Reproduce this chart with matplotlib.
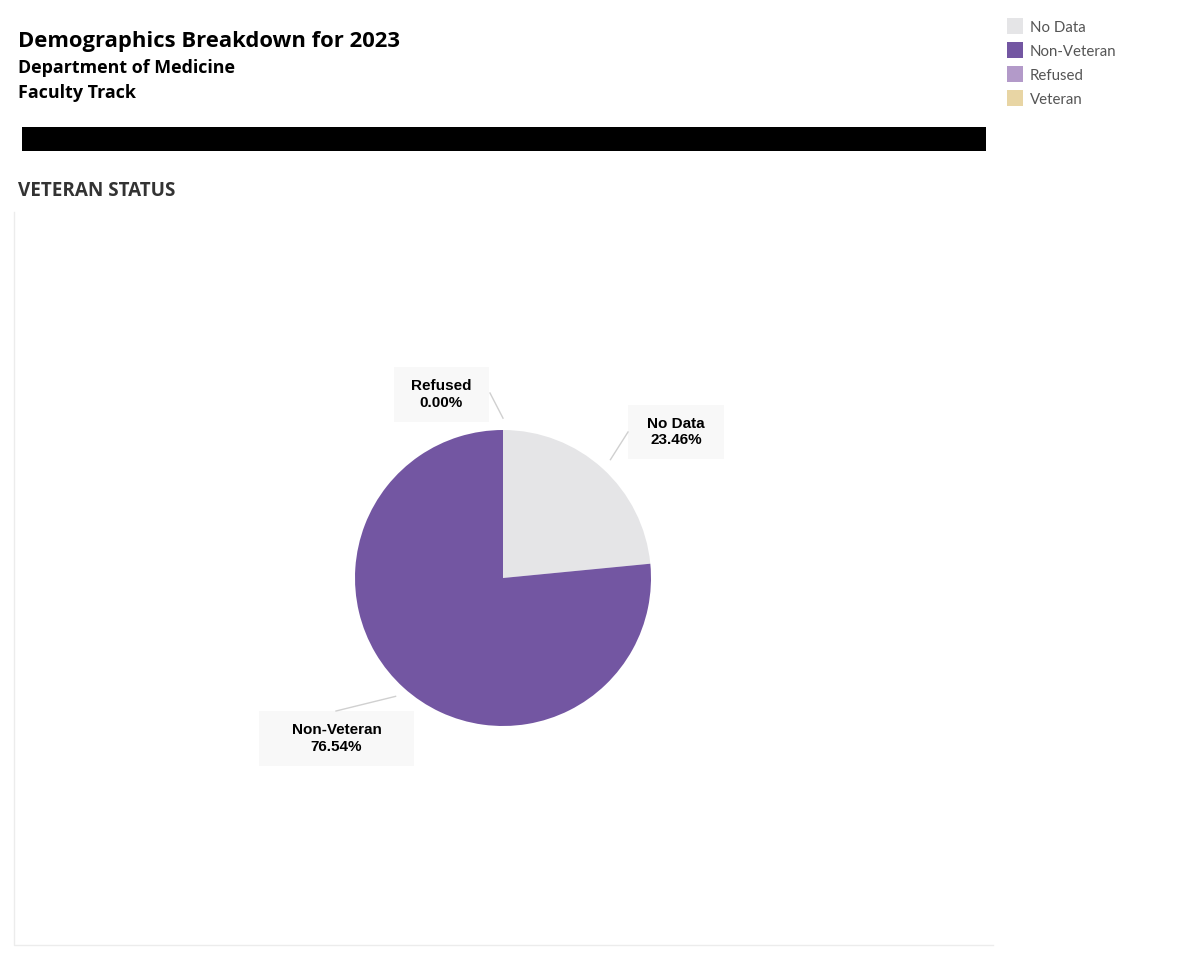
import numpy as np
import matplotlib
matplotlib.use("Agg")
from matplotlib import pyplot
from matplotlib.patches import Rectangle

# Data
categories = ["No Data", "Non-Veteran", "Refused", "Veteran"]
shares = [23.46, 76.54, 0.0, 0.0]
colors = ["#e5e5e7", "#7356a2", "#b39ac9", "#e8d5a4"]
labelled = ["No Data", "Non-Veteran", "Refused"]

W, H = 1200, 960
fig = pyplot.figure(figsize=(12, 9.6), dpi=100)
fig.patch.set_facecolor("white")

# full-figure overlay in pixel coords (y down)
bg = fig.add_axes([0, 0, 1, 1])
bg.set_xlim(0, W)
bg.set_ylim(H, 0)
bg.axis("off")

bg.text(18, 41, "Demographics Breakdown for 2023", fontsize=15.8, fontweight="bold",
        family="Open Sans", va="center", ha="left", color="black")
bg.text(18, 68, "Department of Medicine", fontsize=12.9, fontweight="bold",
        family="Open Sans", va="center", ha="left", color="black")
bg.text(18, 93, "Faculty Track", fontsize=12.9, fontweight="bold",
        family="Open Sans", va="center", ha="left", color="black")

bg.add_patch(Rectangle((22, 127), 964, 24, facecolor="black", edgecolor="none"))

bg.text(18, 191, "VETERAN STATUS", fontsize=13.6, fontweight="bold",
        family="Open Sans", va="center", ha="left", color="#333333")

# panel outline
bg.plot([14, 14, 993], [212, 945, 945], color="#ececec", lw=1)

# legend
for i, (cat, col) in enumerate(zip(categories, colors)):
    y = 18 + 24 * i
    bg.add_patch(Rectangle((1007, y), 16, 16, facecolor=col, edgecolor="none"))
    bg.text(1030, y + 10, cat, fontsize=10.8, family="Lato", color="#555555",
            va="center", ha="left")

# pie
cx, cy, R = 503, 578, 148
ax = fig.add_axes([(cx - R) / W, (H - cy - R) / H, 2 * R / W, 2 * R / H])
wedges, _ = ax.pie(shares, colors=colors, startangle=90, counterclock=False,
                   radius=1, wedgeprops=dict(linewidth=0))
ax.set_xlim(-1, 1)
ax.set_ylim(-1, 1)
ax.set_aspect("equal")
ax.axis("off")


def to_pie(px, py):
    return (px - cx) / R, (cy - py) / R


# label boxes in pixels: centre x, centre y, width, height
label_box = {"No Data": (676, 432, 96, 54), "Refused": (441.5, 394.5, 95, 55),
             "Non-Veteran": (336.5, 738.5, 155, 55)}
line_end = {"No Data": (628, 432), "Refused": (490, 393), "Non-Veteran": (336, 711)}

for cat, share, w in zip(categories, shares, wedges):
    if cat not in labelled:
        continue
    mid = np.deg2rad((w.theta1 + w.theta2) / 2)
    x0, y0 = 1.08 * np.cos(mid), 1.08 * np.sin(mid)
    ex, ey = to_pie(*line_end[cat])
    ax.plot([x0, ex], [y0, ey], color="#d0d0d0", lw=1, clip_on=False)
    bx, by, bw, bh = label_box[cat]
    tx, ty = to_pie(bx, by)
    ax.add_patch(Rectangle((tx - bw / 2 / R, ty - bh / 2 / R), bw / R, bh / R,
                           facecolor="#f8f8f8", edgecolor="none", clip_on=False))
    ax.text(tx, ty, f"{cat}\n{share:.2f}%", ha="center", va="center",
            fontsize=11, fontweight="bold", family="Liberation Sans",
            linespacing=1.25, color="black", clip_on=False)

fig.savefig("out.png", dpi=100, facecolor="white")
